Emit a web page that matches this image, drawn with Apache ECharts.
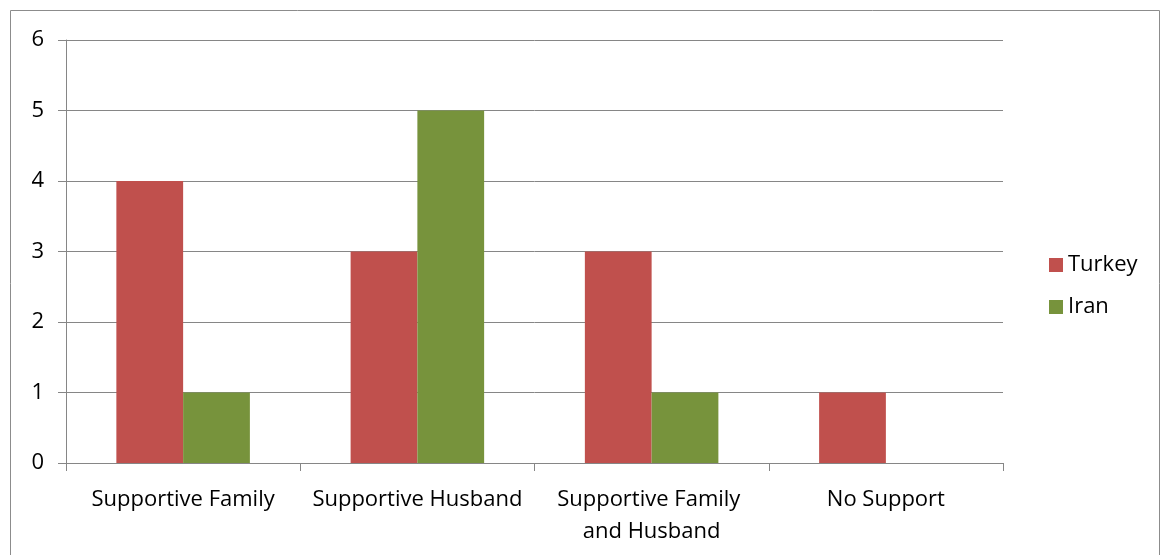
<!DOCTYPE html>
<html>
<head>
<meta charset="utf-8">
<script src="https://cdn.jsdelivr.net/npm/echarts@6/dist/echarts.min.js"></script>
<style>
html,body{margin:0;padding:0;background:#fff;}
#chart{width:1161px;height:555px;}
</style>
</head>
<body>
<div id="chart"></div>
<script>
const categories = ["Supportive Family", "Supportive Husband", "Supportive Family and Husband", "No Support"];
const turkey = [4, 3, 3, 1];
const iran = [1, 5, 1, 0];
const yTicks = [0, 1, 2, 3, 4, 5, 6];

const chart = echarts.init(document.getElementById('chart'));
const font = "'Open Sans', 'Noto Sans', sans-serif";
chart.setOption({
  animation: false,
  textStyle: { fontFamily: font },
  graphic: [{
    type: 'rect',
    shape: { x: 10.5, y: 10.5, width: 1149, height: 560 },
    style: { fill: 'none', stroke: '#8c8c8c', lineWidth: 1 },
    silent: true
  }],
  grid: { left: 66, right: 158, top: 40, bottom: 92 },
  legend: {
    orient: 'vertical',
    left: 1044,
    top: 249,
    itemWidth: 14,
    itemHeight: 14,
    itemGap: 20,
    icon: 'rect',
    textStyle: { fontSize: 22, color: '#000', fontFamily: font },
    data: ['Turkey', 'Iran']
  },
  xAxis: {
    type: 'category',
    data: categories,
    axisLine: { lineStyle: { color: '#868686' } },
    axisTick: { show: true, length: 8, lineStyle: { color: '#868686' }, alignWithLabel: false },
    axisLabel: {
      color: '#000', fontSize: 22, fontFamily: font, margin: 21,
      width: 218, overflow: 'break', lineHeight: 32, interval: 0
    }
  },
  yAxis: {
    type: 'value',
    min: 0, max: 6, interval: 1,
    axisLine: { show: true, lineStyle: { color: '#868686' } },
    axisTick: { show: true, length: 8, lineStyle: { color: '#868686' } },
    axisLabel: { color: '#000', fontSize: 22, fontFamily: font, margin: 22,
      formatter: v => yTicks.includes(v) ? String(v) : '' },
    splitLine: { lineStyle: { color: '#868686' } }
  },
  series: [
    { name: 'Turkey', type: 'bar', data: turkey, barGap: '0%', barCategoryGap: '43%',
      itemStyle: { color: '#C0504D' } },
    { name: 'Iran', type: 'bar', data: iran, barGap: '0%', barCategoryGap: '43%',
      itemStyle: { color: '#77933C' } }
  ]
});
</script>
</body>
</html>
